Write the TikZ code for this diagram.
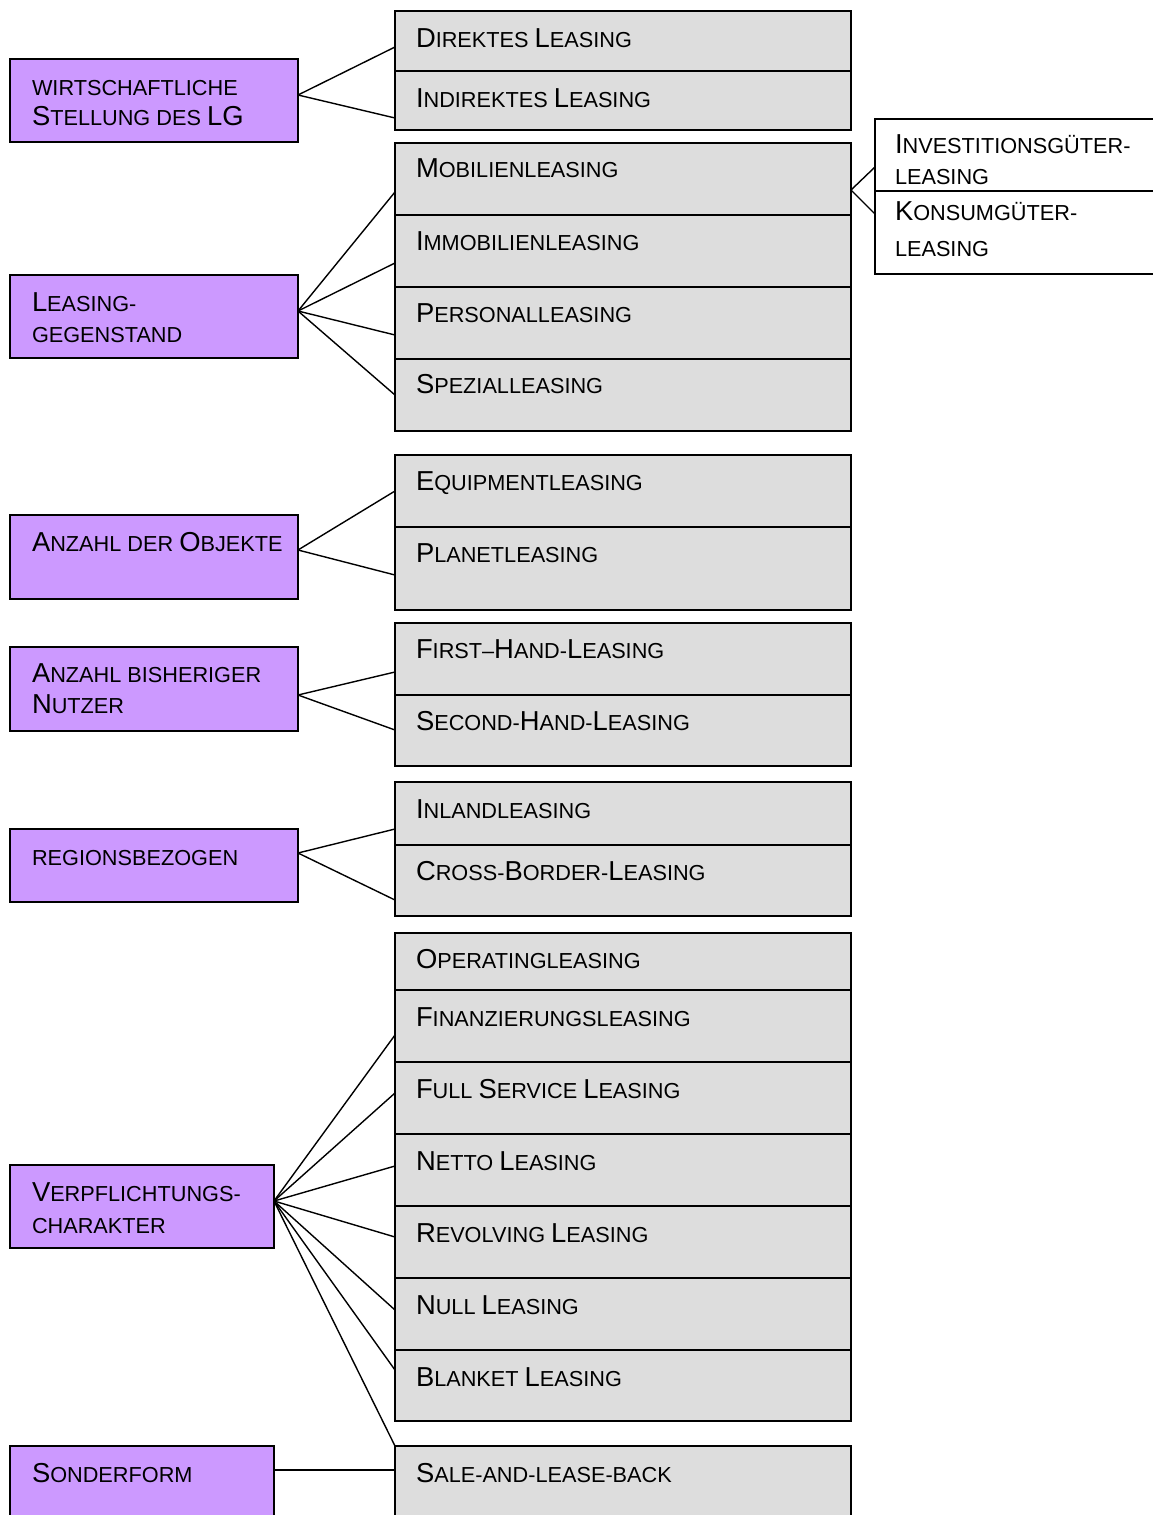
\documentclass[tikz,border=0pt]{standalone}
\usepackage{fontspec}
\setmainfont{Liberation Sans}
\usetikzlibrary{calc}
\definecolor{catfill}{HTML}{CC99FF}
\definecolor{leaffill}{HTML}{DDDDDD}
% small capitals: a large initial followed by smaller capitals
\newcommand\Sc[2]{{\fontsize{27.4}{27.4}\selectfont #1}#2}
% two text lines, baseline of the first line is the node baseline
\newcommand\twoline[3]{\vtop{\baselineskip=#1pt\hbox{#2}\hbox{#3}}}
\tikzset{
  box/.style={draw=black, line width=1.8pt, inner sep=0pt, outer sep=0pt,
              anchor=north west, rectangle},
  catbox/.style={box, fill=catfill},
  leafbox/.style={box, fill=leaffill, minimum width=456pt},
  subbox/.style={box, fill=white, minimum width=300pt},
  lbl/.style={anchor=base west, inner sep=0pt, outer sep=0pt,
              font=\fontsize{21.7}{21.7}\selectfont},
  link/.style={line width=1.4pt}
}
% leaf entry: name, top, height, baseline offset, text
\newcommand\leafnode[5]{%
  \node[leafbox, minimum height=#3] (#1) at (395,#2) {};
  \node[lbl] (#1-t) at ([xshift=21pt,yshift=-#4pt]#1.north west) {#5};}
% category entry: name, top, height, width, baseline offset, text
\newcommand\catnode[6]{%
  \node[catbox, minimum width=#4, minimum height=#3] (#1) at (10,#2) {};
  \node[lbl] (#1-t) at ([xshift=22pt,yshift=-#5pt]#1.north west) {#6};}
% sub entry: name, top, height, baseline offset, text
\newcommand\subnode[5]{%
  \node[subbox, minimum height=#3] (#1) at (875,#2) {};
  \node[lbl] (#1-t) at ([xshift=20pt,yshift=-#4pt]#1.north west) {#5};}
% connector: from node, y offset, to node, y offset
\newcommand\link[4]{\draw[link] ([yshift=-#2pt]#1.north east) -- ([yshift=-#4pt]#3.north west);}

\begin{document}
\begin{tikzpicture}[x=1pt,y=-1pt]
\useasboundingbox (0,0) rectangle (1153,1515);
\fill[white] (0,0) rectangle (1153,1515);
\clip (0,0) rectangle (1153,1515);

% categories
\catnode{l1}{59}{83}{288}{36}{\twoline{30}{WIRTSCHAFTLICHE}{\Sc{S}{TELLUNG} DES \Sc{LG}{}}}
\catnode{l2}{275}{83}{288}{36}{\twoline{31}{\Sc{L}{EASING-}}{GEGENSTAND}}
\catnode{l3}{515}{84}{288}{36}{\Sc{A}{NZAHL} DER \Sc{O}{BJEKTE}}
\catnode{l4}{647}{84}{288}{35}{\twoline{31}{\Sc{A}{NZAHL} BISHERIGER}{\Sc{N}{UTZER}}}
\catnode{l5}{829}{73}{288}{36}{REGIONSBEZOGEN}
\catnode{l6}{1165}{83}{264}{36}{\twoline{32}{\Sc{V}{ERPFLICHTUNGS-}}{CHARAKTER}}
\catnode{l7}{1446}{90}{264}{36}{\Sc{S}{ONDERFORM}}

% types
\leafnode{dir}{11}{60}{36}{\Sc{D}{IREKTES} \Sc{L}{EASING}}
\leafnode{ind}{71}{59}{36}{\Sc{I}{NDIREKTES} \Sc{L}{EASING}}

\leafnode{mob}{143}{72}{34}{\Sc{M}{OBILIENLEASING}}
\leafnode{imm}{215}{72}{35}{\Sc{I}{MMOBILIENLEASING}}
\leafnode{per}{287}{72}{35}{\Sc{P}{ERSONALLEASING}}
\leafnode{spe}{359}{72}{34}{\Sc{S}{PEZIALLEASING}}

\leafnode{equ}{455}{72}{35}{\Sc{E}{QUIPMENTLEASING}}
\leafnode{pla}{527}{83}{35}{\Sc{P}{LANETLEASING}}

\leafnode{fir}{623}{72}{35}{\Sc{F}{IRST}–\Sc{H}{AND}-\Sc{L}{EASING}}
\leafnode{sec}{695}{71}{35}{\Sc{S}{ECOND}-\Sc{H}{AND}-\Sc{L}{EASING}}

\leafnode{inl}{782}{63}{36}{\Sc{I}{NLANDLEASING}}
\leafnode{cro}{845}{71}{35}{\Sc{C}{ROSS}-\Sc{B}{ORDER}-\Sc{L}{EASING}}

\leafnode{ope}{933}{57}{35}{\Sc{O}{PERATINGLEASING}}
\leafnode{fin}{990}{72}{36}{\Sc{F}{INANZIERUNGSLEASING}}
\leafnode{ful}{1062}{72}{36}{\Sc{F}{ULL} \Sc{S}{ERVICE} \Sc{L}{EASING}}
\leafnode{net}{1134}{72}{36}{\Sc{N}{ETTO} \Sc{L}{EASING}}
\leafnode{rev}{1206}{72}{36}{\Sc{R}{EVOLVING} \Sc{L}{EASING}}
\leafnode{nul}{1278}{72}{36}{\Sc{N}{ULL} \Sc{L}{EASING}}
\leafnode{bla}{1350}{71}{36}{\Sc{B}{LANKET} \Sc{L}{EASING}}

\leafnode{sal}{1446}{90}{36}{\Sc{S}{ALE-AND-LEASE-BACK}}

% sub types of Mobilienleasing
\subnode{inv}{119}{72}{34}{\twoline{31}{\Sc{I}{NVESTITIONSGÜTER-}}{LEASING}}
\subnode{kon}{191}{83}{29}{\twoline{36}{\Sc{K}{ONSUMGÜTER-}}{LEASING}}

% connectors
\link{l1}{36}{dir}{36}
\link{l1}{36}{ind}{47}

\link{l2}{36}{mob}{49}
\link{l2}{36}{imm}{48}
\link{l2}{36}{per}{48}
\link{l2}{36}{spe}{36}

\link{l3}{35}{equ}{36}
\link{l3}{35}{pla}{48}

\link{l4}{48}{fir}{49}
\link{l4}{48}{sec}{35}

\link{l5}{24}{inl}{47}
\link{l5}{24}{cro}{55}

\link{l6}{36}{fin}{45}
\link{l6}{36}{ful}{31}
\link{l6}{36}{net}{32}
\link{l6}{36}{rev}{31}
\link{l6}{36}{nul}{32}
\link{l6}{36}{bla}{20}
\link{l6}{36}{sal}{0}

\link{l7}{24}{sal}{24}

\link{mob}{47}{inv}{48}
\link{mob}{47}{kon}{23}
\end{tikzpicture}
\end{document}
